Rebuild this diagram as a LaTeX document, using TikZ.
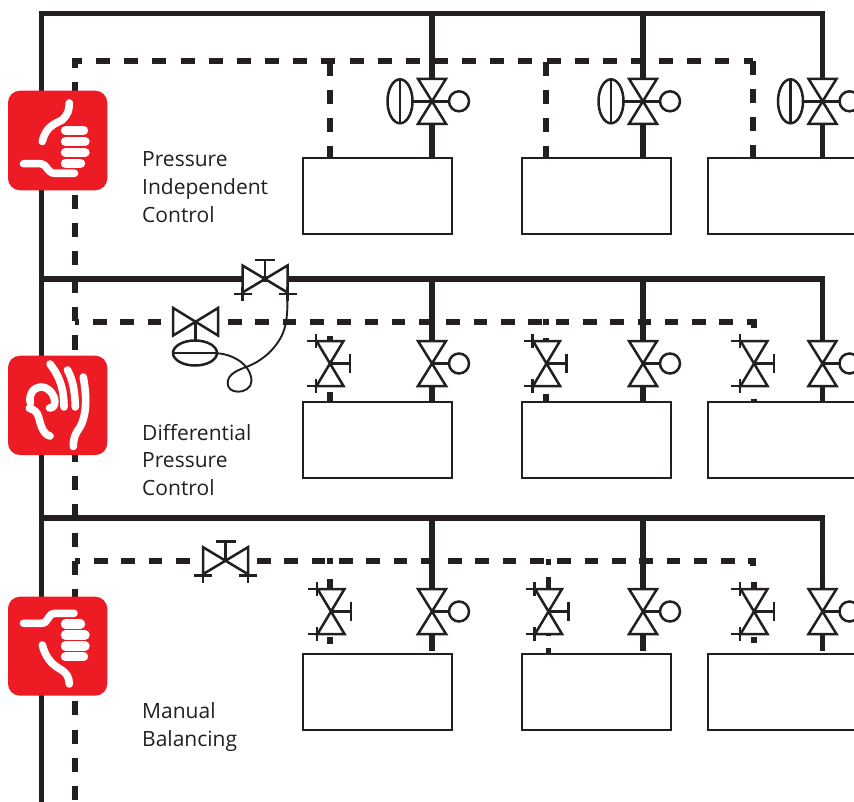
\documentclass[tikz,border=0pt]{standalone}
\usepackage{fontspec}
\setmainfont{Open Sans}
\definecolor{ink}{HTML}{231F20}
\definecolor{alarm}{HTML}{ED1C24}
\tikzset{
  x=1pt,y=-1pt,
  pipe/.style={draw=ink,line width=5.4pt,line cap=butt,line join=miter},
  sensor/.style={draw=ink,line width=5.8pt,line cap=butt,line join=miter},
  sensorrun/.style={sensor,dash pattern=on 14pt off 14.15pt},
  sensorrunb/.style={sensor,dash pattern=on 13.65pt off 13.65pt},
  sym/.style={draw=ink,line width=2.5pt,line join=miter},
  symfill/.style={sym,fill=white},
  capillary/.style={draw=ink,line width=1.9pt},
  unitbox/.style={draw=ink,fill=white,line width=2.5pt,rectangle,minimum width=149pt,minimum height=76pt,inner sep=0pt},
  iconbox/.style={fill=alarm,rounded corners=12pt},
  finger/.style={draw=white,line width=9.4pt,line cap=round},
  hand/.style={draw=white,line width=7.6pt,line cap=round,line join=round},
  caption/.style={text=ink,font=\fontsize{21}{24}\selectfont,anchor=base west,inner sep=0pt},
  plusmark/.pic={\draw[sym] (-9,0)--(9,0) (0,-7)--(0,7);},
  ctrlvalve/.pic={
    \draw[sym] (0,0)--(27,0);
    \draw[symfill] (-14,-22.5)--(14,-22.5)--(-14,22.5)--(14,22.5)--cycle;
    \draw[symfill] (27,0) circle[radius=10pt];
  },
  ctrlvalveact/.pic={
    \draw[sym] (-20,0)--(27,0);
    \draw[symfill] (-14,-22.5)--(14,-22.5)--(-14,22.5)--(14,22.5)--cycle;
    \draw[symfill] (27,0) circle[radius=10pt];
    \draw[symfill] (-32,0) ellipse[x radius=12.5pt,y radius=22pt];
    \draw[sym] (-32,-22)--(-32,22);
  },
  balvalve/.pic={
    \draw[sym] (0,0)--(20,0) (20,-9.5)--(20,9.5);
    \draw[symfill] (-13.5,-22.5)--(13.5,-22.5)--(-13.5,22.5)--(13.5,22.5)--cycle;
    \path (-14,-22.5) pic {plusmark} (-14,22.5) pic {plusmark};
  },
  horvalve/.pic={
    \draw[sym] (0,0)--(0,-19) (-10,-19)--(10,-19);
    \draw[symfill] (-22.5,-13.5)--(-22.5,13.5)--(22.5,-13.5)--(22.5,13.5)--cycle;
    \path (-22.5,15) pic {plusmark} (22.5,15) pic {plusmark};
  }
}
\begin{document}
\begin{tikzpicture}
\useasboundingbox (0,0) rectangle (854,802);
\clip (0,0) rectangle (854,802);

% named points
\coordinate (cornerTL) at (41.3,13.8);
\coordinate (cornerTR) at (822.5,13.8);
\coordinate (leftEnd) at (41.3,802);
\coordinate (busBl) at (41.3,279);
\coordinate (busBr) at (822.5,279);
\coordinate (busCl) at (41.3,518);
\coordinate (busCr) at (822.5,518);

% unit boxes
\foreach \nm/\cx in {a/377.5,b/596.5,c/782.5}{
  \node[unitbox] (box1\nm) at (\cx,196) {};
  \node[unitbox] (box2\nm) at (\cx,440) {};
  \node[unitbox] (box3\nm) at (\cx,692) {};
}

% control (dashed) lines, row 1
\draw[sensorrun] (82,61)--(75,61)--(75,802);
\draw[sensorrun,dash phase=14pt] (82,61)--(753,61);
\draw[sensorrun] (753,61)--(753,157);
\draw[sensorrun] (330,62)--(330,157);
\draw[sensorrun] (546,62)--(546,157);

% control lines, row 2
\draw[sensor] (75,322)--(79.3,322);
\draw[sensorrunb] (93,322)--(165,322);
\draw[sensorrunb] (228,322)--(754,322)--(754,328.5);
\draw[sensor] (546,319)--(546,325);
\draw[sensor] (330,336)--(330,341) (330,392)--(330,401);
\draw[sensor] (546,337.5)--(546,341) (546,394)--(546,401);
\draw[sensor] (754,398.5)--(754,401);

% control lines, row 3
\draw[sensor] (75,561)--(80,561);
\draw[sensorrunb] (94,561)--(190,561);
\draw[sensorrunb] (257,561)--(753,561)--(753,566);
\draw[sensor] (330,558)--(330,564) (330,579)--(330,589) (330,637)--(330,644);
\draw[sensor] (548.5,558.5)--(548.5,564.5) (548.5,577)--(548.5,589) (548.5,634)--(548.5,636) (548.5,648)--(548.5,653);
\draw[sensor] (754,581.7)--(754,589) (754,636.7)--(754,643);

% main pipes
\draw[pipe] (leftEnd)--(cornerTL)--(cornerTR)--(822.5,80);
\draw[pipe] (busBl)--(busBr)--(822.5,342);
\draw[pipe] (busCl)--(busCr)--(822.5,590);
\foreach \px in {432,643}{
  \draw[pipe] (\px,13.8)--(\px,80) (\px,123)--(\px,157);
  \draw[pipe] (\px,279)--(\px,342) (\px,385)--(\px,401);
  \draw[pipe] (\px,518)--(\px,590) (\px,633)--(\px,651);
}
\draw[pipe] (822.5,123)--(822.5,157) (822.5,385)--(822.5,401) (822.5,633)--(822.5,651);

% valves
\foreach \px in {432,643,822.5}{
  \path (\px,101.3) pic {ctrlvalveact};
  \path (\px,363.5) pic {ctrlvalve};
  \path (\px,611.5) pic {ctrlvalve};
}
\path (330,363.5) pic {balvalve};
\path (546.5,363.5) pic {balvalve};
\path (754,363.5) pic {balvalve};
\path (331,611.5) pic {balvalve};
\path (548.5,611.5) pic {balvalve};
\path (754,611.5) pic {balvalve};
\path (265,279) pic {horvalve};
\path (225.5,560.7) pic {horvalve};

% differential pressure regulator
\draw[sym] (195.5,322)--(195.5,341);
\draw[symfill] (173.2,308)--(173.2,335.5)--(218,308)--(218,335.5)--cycle;
\draw[symfill] (195,353) ellipse[x radius=22pt,y radius=12.5pt];
\draw[sym] (173,353)--(217,353);
\coordinate (capA) at (217,353.3);
\coordinate (capB) at (287.3,294);
\draw[capillary] (capA) .. controls (232,354) and (251,364) .. (251.5,381)
  .. controls (251.5,388) and (244,392) .. (238,391.7)
  .. controls (231,391.5) and (227.7,388) .. (227.7,383)
  .. controls (227.7,374) and (238,370) .. (247,366.7)
  .. controls (262,361) and (276,349) .. (283,333)
  .. controls (288,320) and (287.5,305) .. (capB);

% icons
\fill[iconbox] (8,90.7) rectangle (107.3,190.3);
\fill[iconbox] (8,355.7) rectangle (107.3,455);
\fill[iconbox] (8,596.7) rectangle (107.3,695.7);

% thumb up
\draw[hand] (69.3,103) .. controls (69,110) and (68.5,114) .. (62,120)
  .. controls (55,124) and (46,126) .. (42.3,141.5);
\draw[finger] (65.5,130.5)--(83.5,130.5) (65.5,141.5)--(85,141.5) (65.5,152.5)--(85,152.5);
\draw[finger] (65.5,163.3)--(80.5,163.3);
\draw[hand] (23.5,163.7)--(41,163.7) .. controls (47,164) and (47,173.3) .. (55,173.3) -- (74.5,173.3);

% OK hand
\draw[hand] (50,364) .. controls (57,373) and (64,385) .. (64,407);
\draw[hand] (67.5,370) .. controls (73,380) and (75,392) .. (75.3,407);
\draw[hand] (83.3,377) .. controls (86,392) and (87,408) .. (83,420)
  .. controls (80,431) and (73.5,431) .. (73.3,446.5);
\draw[hand] (49.5,408) .. controls (57,408) and (56,397) .. (50,391)
  .. controls (44,385) and (36,386) .. (32,392) .. controls (29,397) and (30,402) .. (30.5,403);
\draw[hand] (29.3,408.3) .. controls (40,411) and (38,419) .. (42,428) .. controls (44,432) and (46,435) .. (50,436);

% thumb down
\draw[finger] (65.5,624)--(80.5,624);
\draw[finger] (65.5,635)--(85,635) (65.5,646)--(85,646);
\draw[finger] (65.5,656.7)--(83.5,656.7);
\draw[hand] (23.5,623.3)--(41,623.3) .. controls (50,623.3) and (46,613.3) .. (56,613.3) -- (74,613.3);
\draw[hand] (42.3,645) .. controls (45,656) and (51,664) .. (60,669)
  .. controls (67,673) and (69,677) .. (69.3,684);

% captions
\node[caption] (t1a) at (142,167) {Pressure};
\node[caption] (t1b) at (142,195) {Independent};
\node[caption] (t1c) at (142,222.7) {Control};
\node[caption] (t2a) at (142,440) {Differential};
\node[caption] (t2b) at (142,467.5) {Pressure};
\node[caption] (t2c) at (142,495) {Control};
\node[caption] (t3a) at (142,718.3) {Manual};
\node[caption] (t3b) at (142,746) {Balancing};
\end{tikzpicture}
\end{document}
